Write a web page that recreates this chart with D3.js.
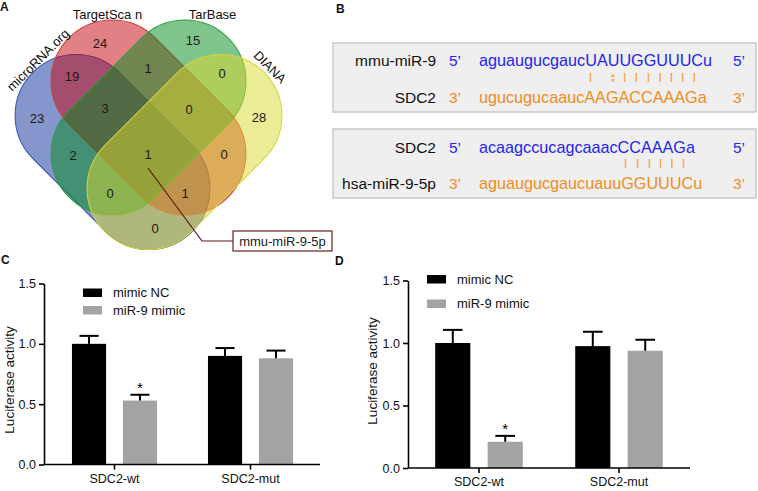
<!DOCTYPE html>
<html><head><meta charset="utf-8">
<script src="https://cdn.jsdelivr.net/npm/d3@7"></script>
<style>
body{margin:0;background:#fff}
svg{display:block}
text{font-family:"Liberation Sans",Arial,Helvetica,sans-serif}
</style>
</head><body>
<svg id="fig" width="758" height="491"></svg>
<script>
// ---------------- DATA ----------------
// Panel A: Venn
const vennSetNames = ["microRNA.org", "TargetSca n", "TarBase", "DIANA"];
const vennSetKeys = ["B", "R", "G", "Y"];
const vennRegionSets = ["R","G","BR","RG","GY","B","BRG","RGY","Y","BG","BRGY","RY","BGY","BRY","BY"];
const vennRegionCounts = [24, 15, 19, 1, 0, 23, 3, 0, 28, 2, 1, 0, 0, 1, 0];
const vennCallout = "mmu-miR-9-5p";

// Panel B: binding sites
const box1Names = ["mmu-miR-9", "SDC2"];
const box1LeftEnds = ["5\u2019", "3\u2019"];
const box1RightEnds = ["5\u2019", "3\u2019"];
const box1Seqs = ["aguaugucgaucUAUUGGUUUCu", "ugucugucaaucAAGACCAAAGa"];
const box1Pairs = "            | :|||||||";
const box2Names = ["SDC2", "hsa-miR-9-5p"];
const box2LeftEnds = ["5\u2019", "3\u2019"];
const box2RightEnds = ["5\u2019", "3\u2019"];
const box2Seqs = ["acaagccucagcaaacCCAAAGa", "aguaugucgaucuauuGGUUUCu"];
const box2Pairs = "                ||||||";

// Panels C & D: luciferase
const groups = ["SDC2-wt", "SDC2-mut"];
const seriesNames = ["mimic NC", "miR-9 mimic"];
const yTicks = [0, 0.5, 1.0, 1.5];
const cNC = [1.00, 0.90];
const cNCErr = [0.066, 0.065];
const cMimic = [0.53, 0.88];
const cMimicErr = [0.048, 0.064];
const mimicSig = ["*", ""];   // significance mark on miR-9 mimic bars
const dNC = [1.00, 0.975];
const dNCErr = [0.105, 0.115];
const dMimic = [0.21, 0.938];
const dMimicErr = [0.047, 0.088];

// ---------------- DRAW ----------------
const svg = d3.select("#fig");
const FONT = 13;
const AFONT = 12.5;

function panelLabel(t, x, y) {
  svg.append("text").attr("x", x).attr("y", y).text(t)
    .attr("font-size", 12).attr("font-weight", "bold").attr("fill", "#111");
}
panelLabel("A", 0, 11);
panelLabel("B", 336, 13);
panelLabel("C", 1, 264);
panelLabel("D", 335, 265);

// ---------- Panel A ----------
(function () {
  const gA = svg.append("g");
  const L = 225, W = 122;
  const shapes = [
    { key: "B", cx: 112.5, cy: 152, ang: 45, fill: "#0b2d9b", stroke: "#3550b0" },
    { key: "R", cx: 148.5, cy: 117.5, ang: 45, fill: "#c3030b", stroke: "#d03a3a" },
    { key: "G", cx: 148.5, cy: 117.5, ang: -45, fill: "#028a1b", stroke: "#2e9e40" },
    { key: "Y", cx: 184.5, cy: 152, ang: -45, fill: "#d9d72d", stroke: "#d6d636" }
  ];
  gA.selectAll("rect.set").data(shapes).join("rect").attr("class", "set")
    .attr("x", -L / 2).attr("y", -W / 2).attr("width", L).attr("height", W)
    .attr("rx", W / 2).attr("ry", W / 2)
    .attr("transform", d => `translate(${d.cx},${d.cy}) rotate(${d.ang})`)
    .attr("fill", d => d.fill).attr("fill-opacity", 0.5)
    .attr("stroke", d => d.stroke).attr("stroke-width", 1);

  const setLabelPos = { B: [38, 60, -45], R: [107.5, 14, 0], G: [212.5, 14, 0], Y: [270, 67, 45] };
  vennSetKeys.forEach((k, i) => {
    const p = setLabelPos[k];
    gA.append("text").text(vennSetNames[i])
      .attr("transform", `translate(${p[0]},${p[1]}) rotate(${p[2]})`)
      .attr("text-anchor", "middle").attr("dominant-baseline", "central")
      .attr("font-size", FONT).attr("fill", "#111");
  });

  const regionPos = {
    R: [100, 43], G: [193, 40], BR: [72, 76], RG: [148, 68], GY: [222, 73],
    B: [37, 118], BRG: [105, 108], RGY: [189, 109], Y: [259, 117],
    BG: [73, 155], BRGY: [148, 154], RY: [224, 154],
    BGY: [110, 193], BRY: [185, 193], BY: [155, 228]
  };
  vennRegionSets.forEach((s, i) => {
    const p = regionPos[s];
    gA.append("text").text(vennRegionCounts[i]).attr("x", p[0]).attr("y", p[1])
      .attr("text-anchor", "middle").attr("dominant-baseline", "central")
      .attr("font-size", FONT).attr("fill", "#1a1a1a");
  });

  const c = regionPos.BRGY;
  gA.append("polyline")
    .attr("points", `${c[0]},${c[1] + 14} 202,241 233,241`)
    .attr("fill", "none").attr("stroke", "#5e1515").attr("stroke-width", 1.2);
  gA.append("rect").attr("x", 233).attr("y", 231).attr("width", 99).attr("height", 20)
    .attr("fill", "#fff").attr("stroke", "#6b1f1f").attr("stroke-width", 1.2);
  gA.append("text").text(vennCallout).attr("x", 282.5).attr("y", 241)
    .attr("text-anchor", "middle").attr("dominant-baseline", "central")
    .attr("font-size", FONT).attr("fill", "#1a1a1a");
})();

// ---------- Panel B ----------
(function () {
  const BLUE = "#2424ee", ORANGE = "#f08c1e", PAIR = "#f2ac62";
  const rowColors = [BLUE, ORANGE];
  const FS = 15.5, SFS = 16.2;
  function drawBox(y0, names, lefts, rights, seqs, pairs, baselines, pairY) {
    svg.append("rect").attr("x", 333).attr("y", y0).attr("width", 423).attr("height", 69)
      .attr("fill", "#efefef").attr("stroke", "#c9c9c9").attr("stroke-width", 1.5);
    const seqNodes = [];
    names.forEach((n, i) => {
      const by = baselines[i];
      svg.append("text").text(n).attr("x", 436).attr("y", by).attr("text-anchor", "end")
        .attr("font-size", FS).attr("fill", "#111");
      svg.append("text").text(lefts[i]).attr("x", 449).attr("y", by)
        .attr("font-size", FS).attr("fill", rowColors[i]);
      const t = svg.append("text").text(seqs[i]).attr("x", 479).attr("y", by)
        .attr("font-size", SFS).attr("fill", rowColors[i]);
      seqNodes.push(t.node());
      svg.append("text").text(rights[i]).attr("x", 733).attr("y", by)
        .attr("font-size", FS).attr("fill", rowColors[i]);
    });
    const marks = [];
    for (let i = 0; i < pairs.length; i++) {
      if (pairs[i] === " ") continue;
      const e0 = seqNodes[0].getExtentOfChar(i), e1 = seqNodes[1].getExtentOfChar(i);
      const cx = ((e0.x + e0.width / 2) + (e1.x + e1.width / 2)) / 2;
      marks.push({ x: cx, type: pairs[i] });
    }
    marks.forEach(m => {
      if (m.type === "|") {
        svg.append("line").attr("x1", m.x).attr("x2", m.x)
          .attr("y1", pairY[0]).attr("y2", pairY[1])
          .attr("stroke", PAIR).attr("stroke-width", 1.6);
      } else {
        [pairY[0] + 1.5, pairY[1] - 3].forEach(yy => {
          svg.append("rect").attr("x", m.x - 1.5).attr("y", yy).attr("width", 3).attr("height", 2.6)
            .attr("fill", PAIR);
        });
      }
    });
  }
  drawBox(43, box1Names, box1LeftEnds, box1RightEnds, box1Seqs, box1Pairs, [65.5, 102.5], [73, 82]);
  drawBox(129, box2Names, box2LeftEnds, box2RightEnds, box2Seqs, box2Pairs, [152.5, 188.5], [159, 168]);
})();

// ---------- Panels C & D ----------
function barPanel(opt) {
  const g = svg.append("g");
  const y = d3.scaleLinear().domain([0, 1.5]).range([opt.y0, opt.y1]);
  const x0 = d3.scaleBand().domain(groups).range([opt.x0, opt.x1])
    .paddingInner(0).paddingOuter(opt.outer).align(opt.align);
  const x1 = d3.scaleBand().domain(seriesNames).range([0, x0.bandwidth()])
    .paddingInner(0.33).paddingOuter(0.5);
  const colors = d3.scaleOrdinal().domain(seriesNames).range(["#000000", "#a3a3a6"]);

  const rows = [];
  groups.forEach((gname, i) => {
    rows.push({ g: gname, s: seriesNames[0], v: opt.nc[i], e: opt.ncErr[i], sig: "" });
    rows.push({ g: gname, s: seriesNames[1], v: opt.mi[i], e: opt.miErr[i], sig: opt.sig[i] });
  });

  g.selectAll("rect.bar").data(rows).join("rect").attr("class", "bar")
    .attr("x", d => x0(d.g) + x1(d.s)).attr("width", x1.bandwidth())
    .attr("y", d => y(d.v)).attr("height", d => y(0) - y(d.v))
    .attr("fill", d => colors(d.s));

  const capW = x1.bandwidth() * 0.56;
  rows.forEach(d => {
    const cx = x0(d.g) + x1(d.s) + x1.bandwidth() / 2;
    g.append("line").attr("x1", cx).attr("x2", cx).attr("y1", y(d.v)).attr("y2", y(d.v + d.e))
      .attr("stroke", "#000").attr("stroke-width", 2);
    g.append("line").attr("x1", cx - capW / 2).attr("x2", cx + capW / 2)
      .attr("y1", y(d.v + d.e)).attr("y2", y(d.v + d.e))
      .attr("stroke", "#000").attr("stroke-width", 2);
    if (d.sig) {
      g.append("text").text(d.sig).attr("x", cx).attr("y", y(d.v + d.e) - 2)
        .attr("text-anchor", "middle").attr("font-size", 15).attr("fill", "#000");
    }
  });

  const ya = g.append("g").attr("transform", `translate(${opt.x0},0)`)
    .call(d3.axisLeft(y).tickValues(yTicks).tickFormat(d3.format(".1f"))
      .tickSize(5).tickSizeOuter(0).tickPadding(3));
  const xa = g.append("g").attr("transform", `translate(0,${opt.y0})`)
    .call(d3.axisBottom(x0).tickSize(5).tickSizeOuter(0).tickPadding(4.5));
  [ya, xa].forEach(a => {
    a.selectAll("path,line").attr("stroke", "#000").attr("stroke-width", 1.6);
    a.selectAll("text").attr("font-size", AFONT).attr("fill", "#111")
      .attr("font-family", "\"Liberation Sans\",Arial,sans-serif");
  });
  xa.select("path.domain").attr("d", `M${opt.x0},0H${opt.x1}`);

  g.append("text").text("Luciferase activity")
    .attr("transform", `translate(${opt.labX},${opt.labY}) rotate(-90)`)
    .attr("text-anchor", "middle").attr("dominant-baseline", "central")
    .attr("font-size", 13.5).attr("fill", "#111");

  seriesNames.forEach((s, i) => {
    const ly = opt.legY[i];
    g.append("rect").attr("x", opt.legX).attr("y", ly - 4).attr("width", 19).attr("height", 8.5)
      .attr("fill", colors(s));
    g.append("text").text(s).attr("x", opt.legX + 30).attr("y", ly)
      .attr("dominant-baseline", "central").attr("font-size", FONT).attr("fill", "#111");
  });
}

barPanel({
  x0: 44, x1: 320, y0: 464.5, y1: 283.5, outer: 0.0147, align: 0.625,
  nc: cNC, ncErr: cNCErr, mi: cMimic, miErr: cMimicErr, sig: mimicSig,
  labX: 9.5, labY: 380, legX: 83, legY: [292.5, 310]
});
barPanel({
  x0: 408, x1: 690, y0: 468, y1: 280.5, outer: 0.007, align: 0.5,
  nc: dNC, ncErr: dNCErr, mi: dMimic, miErr: dMimicErr, sig: mimicSig,
  labX: 372, labY: 371, legX: 427, legY: [279, 303.5]
});
</script>
</body></html>
